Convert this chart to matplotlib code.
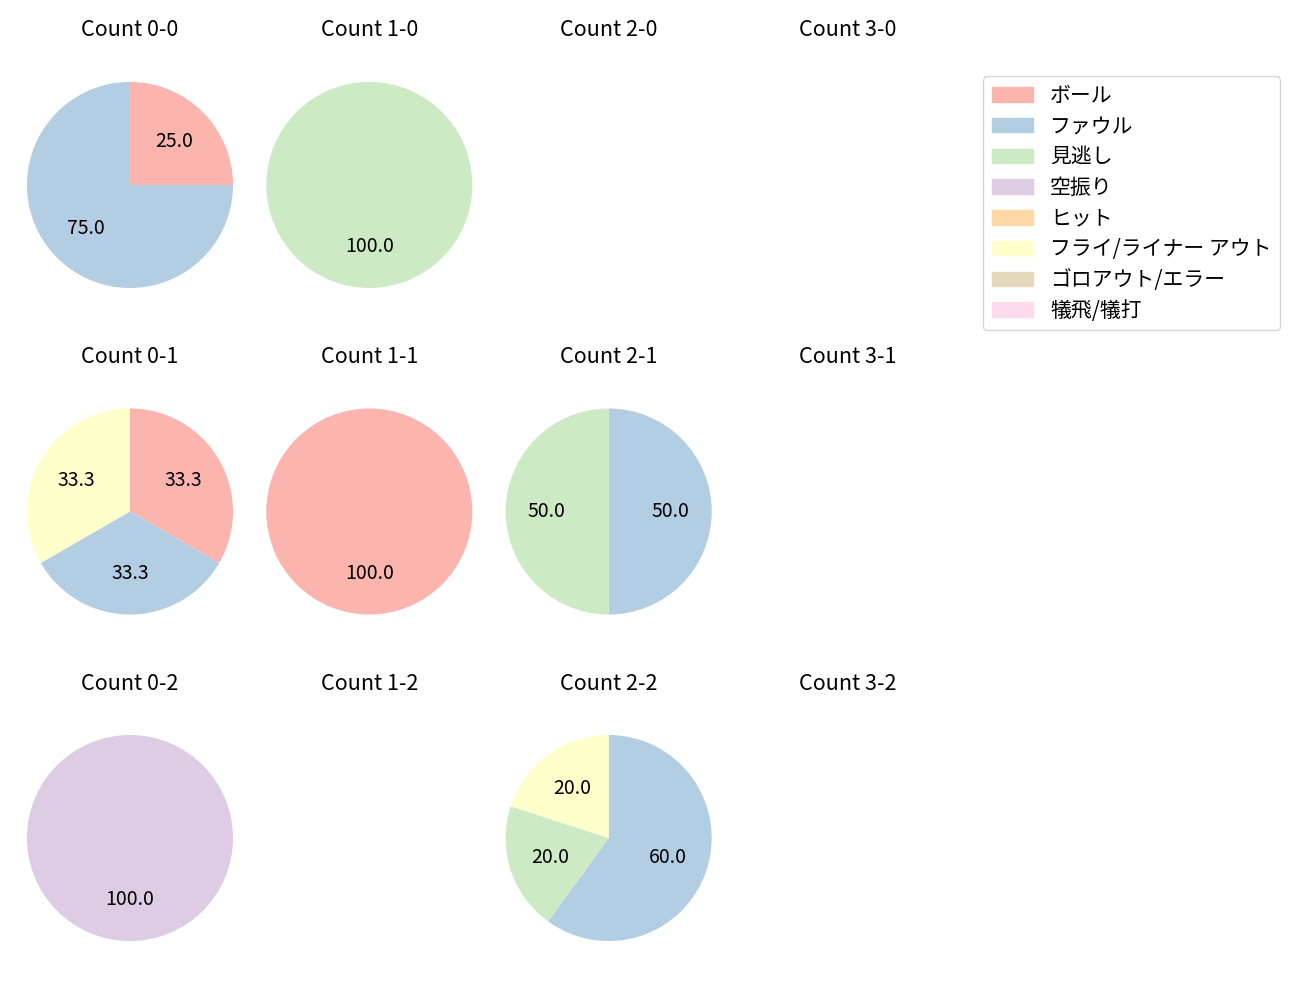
import matplotlib.pyplot as plt

plt.rcParams['font.family'] = ['Noto Sans CJK JP', 'DejaVu Sans']

# pitch result categories and colours (Pastel1)
categories = ['ボール', 'ファウル', '見逃し', '空振り', 'ヒット',
              'フライ/ライナー アウト', 'ゴロアウト/エラー', '犠飛/犠打']
colors = ['#fbb4ae', '#b3cde3', '#ccebc5', '#decbe4', '#fed9a6',
          '#ffffcc', '#e5d8bd', '#fddaec']

balls = [0, 1, 2, 3]
strikes = [0, 1, 2]

# counts per category for each ball-strike count (empty = no data)
counts = {
    (0, 0): [1, 3, 0, 0, 0, 0, 0, 0],
    (1, 0): [0, 0, 1, 0, 0, 0, 0, 0],
    (0, 1): [1, 1, 0, 0, 0, 1, 0, 0],
    (1, 1): [1, 0, 0, 0, 0, 0, 0, 0],
    (2, 1): [0, 1, 1, 0, 0, 0, 0, 0],
    (0, 2): [0, 0, 0, 1, 0, 0, 0, 0],
    (2, 2): [0, 3, 1, 0, 0, 1, 0, 0],
}

fig, axes = plt.subplots(3, 4, figsize=(13, 10), dpi=100)
plt.subplots_adjust(left=0.0128, right=0.7395, bottom=0.019, top=0.958,
                    wspace=0.056, hspace=0.142)

for s in strikes:
    for b in balls:
        ax = axes[s, b]
        ax.set_title('Count %d-%d' % (b, s), fontsize=15.5, pad=4)
        vals = counts.get((b, s))
        if vals is None:
            ax.axis('off')
            continue
        v = [x for x in vals if x > 0]
        c = [colors[i] for i, x in enumerate(vals) if x > 0]
        ax.pie(v, colors=c, startangle=90, counterclock=False,
               autopct='%.1f', textprops={'fontsize': 14})
        ax.set_xlim(-1.1, 1.1)
        ax.set_ylim(-1.1, 1.1)
        ax.set_aspect('equal', adjustable='datalim')

handles = [plt.Rectangle((0, 0), 1, 1, color=c) for c in colors]
fig.legend(handles, categories, loc='upper right',
           bbox_to_anchor=(0.9925, 0.934), fontsize=15, labelspacing=0.42)

plt.savefig('out.png')
